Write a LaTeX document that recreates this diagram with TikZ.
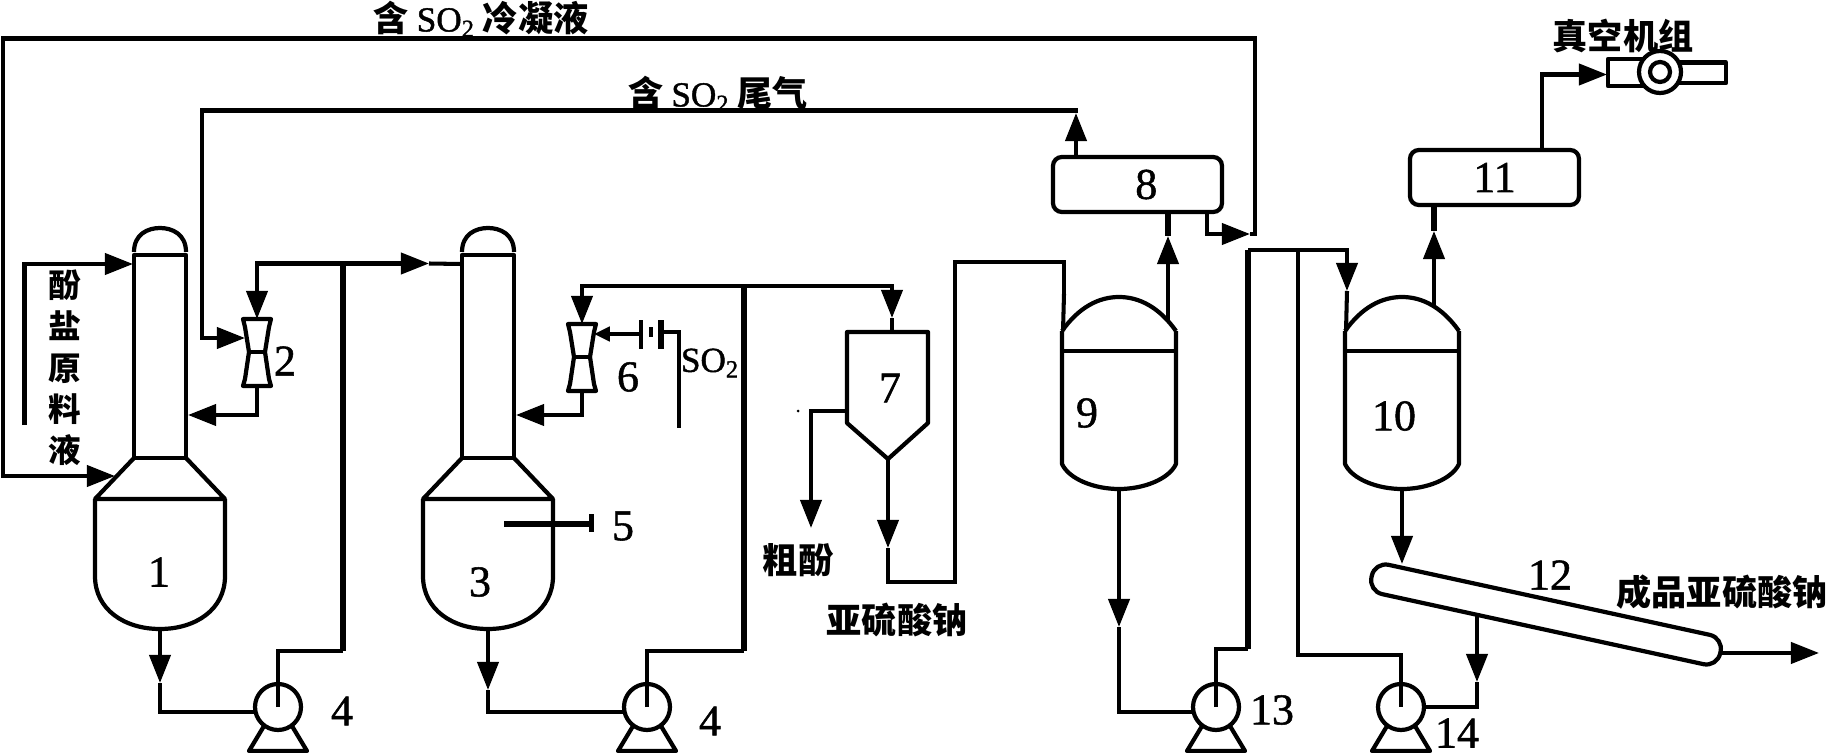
\documentclass[tikz,border=0pt]{standalone}
\usepackage{fontspec}
\usetikzlibrary{arrows.meta, positioning}
\newfontfamily\cjk{Noto Sans CJK SC}
\newfontfamily\numfont{Liberation Serif}[FakeBold=1.2]
\tikzset{
  pipe/.style={line width=2.3pt},
  riser/.style={line width=3pt},
  flow/.style={line width=2.3pt, -{Triangle[length=16pt,width=12pt]}},
  smallflow/.style={line width=2.3pt, -{Triangle[length=9pt,width=8pt]}},
  shell/.style={line width=2.4pt, line join=round},
  num/.style={font=\numfont\fontsize{25}{25}\selectfont, inner sep=0pt},
  cjktext/.style={font=\cjk\bfseries\fontsize{20}{20}\selectfont, inner sep=0pt},
  condenser/.style={draw, line width=2.4pt, rounded corners=5pt, minimum width=3.38cm, minimum height=1.1cm, inner sep=0pt, font=\numfont\fontsize{25}{25}\selectfont},
  pumpbody/.style={draw, circle, line width=2.4pt, minimum size=.92cm, inner sep=0pt},
  column/.pic={
    \draw[shell] (-26,-203) -- (-26,0) -- (26,0) -- (26,-203) -- cycle;
    \draw[shell] (-26,-206) .. controls (-26,-224) and (-12,-230) .. (0,-230) .. controls (12,-230) and (26,-224) .. (26,-206);
    \draw[shell] (-26,0) -- (-65,41) -- (65,41) -- (26,0);
    \draw[shell] (-65,41) -- (-65,118) .. controls (-65,152) and (-35,171) .. (0,171) .. controls (35,171) and (65,152) .. (65,118) -- (65,41);
    \coordinate (-bot) at (0,171);
    \coordinate (-top) at (-27,-194);
    \coordinate (-side) at (28,-43);
    \coordinate (-cone) at (-45,18);
  },
  drum/.pic={
    \draw[shell] (-57,-20) .. controls (-40,-44) and (-20,-54) .. (0,-54) .. controls (20,-54) and (40,-44) .. (57,-20);
    \draw[shell] (-57,-20) -- (-57,113) .. controls (-50,128) and (-25,138) .. (0,138) .. controls (25,138) and (50,128) .. (57,113) -- (57,-20);
    \draw[shell] (-57,0) -- (57,0);
    \coordinate (-bot) at (0,138);
    \coordinate (-in) at (-56,-20);
  },
  ejector/.pic={
    \draw[shell] (-14,-33) -- (14,-33) -- (12,-25) -- (8,0) -- (12,27) -- (14,34) -- (-14,34) -- (-12,27) -- (-8,0) -- (-12,-25) -- cycle;
    \draw[shell] (-8,0) -- (8,0);
    \coordinate (-top) at (0,-33);
    \coordinate (-bot) at (0,34);
    \coordinate (-l) at (-12,-14);
    \coordinate (-r) at (12,-23);
  },
  pump/.pic={
    \node[pumpbody] (-c) at (0,0) {};
    \draw[shell] (-14,19) -- (-29,44) -- (29,44) -- (14,19);
    \coordinate (-in) at (-23,5);
    \coordinate (-out) at (23,0);
  },
}

\begin{document}
\begin{tikzpicture}[x=0.02cm, y=-0.02cm]
\useasboundingbox (0,0) rectangle (1832,753);

% Evaporators and pumps
\pic (ves1) at (160,458) {column};
\pic (ves3) at (488,458) {column};
\pic (ej2) at (257,352) {ejector};
\pic (ej6) at (582,357) {ejector};
\pic (pump1) at (278,707) {pump};
\pic (pump2) at (647,707) {pump};
\pic (pump13) at (1216,707) {pump};
\pic (pump14) at (1401,707) {pump};

% Drums, condensers, hopper
\pic (ves9) at (1119,351) {drum};
\pic (ves10) at (1402,351) {drum};
\node[condenser] (cond8) at (1137.5,184.5) {\hspace{10pt}8};
\node[condenser] (cond11) at (1494.5,177.5) {11};
\draw[shell] (847,332) -- (928,332) -- (928,423) -- (888,459) -- (847,423) -- cycle;
\coordinate (hoptop) at (892,332);
\coordinate (hopapex) at (888,459);
\coordinate (hopside) at (847,411);

% Screw conveyor
\node[draw, line width=2.4pt, rounded corners=8pt, rotate=-12.3, minimum width=7.14cm, minimum height=.6cm, inner sep=0pt] (tube12) at (1546,614.5) {};

% Vacuum unit
\draw[shell] (1608,59) rectangle (1645,86);
\draw[shell] (1678,62.5) rectangle (1726,83);
\node[draw, circle, fill=white, line width=2.4pt, minimum size=.84cm, inner sep=0pt] (vac) at (1660,72) {};
\node[draw, circle, line width=2.4pt, minimum size=.4cm, inner sep=0pt] (vachub) at (1660,72) {};
\coordinate (vacin) at (1607,74.5);

% Stirrer
\draw[line width=3.4pt] (504,524) -- (593,524);
\fill (589,514) rectangle (594,532);

% Feed and condensate
\coordinate (feedin) at (24.5,425);
\draw[flow] (feedin) |- (ves1-top);
\coordinate (q0) at (1207,212);
\coordinate (q1) at (1250,234);
\draw[flow] (q0) |- (q1);
\draw[flow] (q1) -- (1255,234) -- (1255,38.5) -- (3,38.5) |- (ves1-cone);

% Off gas
\coordinate (g0) at (1076,157);
\coordinate (g1) at (1076,113);
\draw[flow] (g0) -- (g1);
\draw[flow] (g1) -- (1076,110.5) -- (202,110.5) |- (ej2-l);

% Loop of evaporator 1
\coordinate (h1) at (160,683);
\coordinate (r1) at (343,651);
\coordinate (r1top) at (343,263.5);
\coordinate (h2) at (429,263.5);
\draw[flow] (ves1-bot) -- (h1);
\draw[pipe] (h1) |- (pump1-in);
\draw[pipe] (pump1-c.center) |- (r1);
\draw[riser] (r1) -- (r1top);
\draw[flow] (r1top) -| (ej2-top);
\draw[flow] (r1top) -- (h2);
\draw[pipe] (h2) -- (ves3-top);
\draw[flow] (ej2-bot) |- (ves1-side);

% Loop of evaporator 3
\coordinate (h3) at (488,690);
\coordinate (r2) at (744,651);
\coordinate (r2top) at (744,286);
\coordinate (h7) at (892,318);
\draw[flow] (ves3-bot) -- (h3);
\draw[pipe] (h3) |- (pump2-in);
\draw[pipe] (pump2-c.center) |- (r2);
\draw[riser] (r2) -- (r2top);
\draw[flow] (r2top) -| (ej6-top);
\draw[flow] (r2top) -| (h7);
\draw[pipe] (h7) -- (hoptop);
\draw[flow] (ej6-bot) |- (ves3-side);

% SO2 inlet
\coordinate (so2a) at (641,334);
\coordinate (so2b) at (661,332);
\coordinate (so2c) at (679,428);
\draw[smallflow] (so2a) -- (ej6-r |- so2a);
\draw[pipe] (641,320) -- (641,349);
\draw[pipe] (651,327) -- (651,337);
\draw[riser] (661,320) -- (661,349);
\draw[pipe] (so2b) -| (so2c);

% Hopper outlets to drum 9
\coordinate (h5) at (811,528);
\coordinate (h6) at (888,548);
\coordinate (h9) at (1064,294);
\draw[flow] (hopside) -| (h5);
\draw[flow] (hopapex) -- (h6);
\draw[pipe] (h6) -- (888,582) -- (955,582) -- (955,262) -| (h9);
\draw[pipe] (h9) -- (ves9-in);
\fill (798,411) circle (1.5);

% Drum 9 outlets
\coordinate (v9) at (1168,322);
\coordinate (h8) at (1168,236);
\coordinate (h13) at (1119,627);
\draw[flow] (v9) -- (h8);
\draw[riser] (h8) -- (cond8.south -| h8);
\draw[flow] (ves9-bot) -- (h13);
\draw[pipe] (h13) |- (pump13-in);

% Pump 13 to drum 10 and pump 14
\coordinate (r3) at (1248,649);
\coordinate (r3top) at (1248,250);
\coordinate (t3) at (1298,250);
\coordinate (h10) at (1347,291);
\draw[pipe] (pump13-c.center) |- (r3);
\draw[riser] (r3) -- (r3top);
\draw[pipe] (r3top) -- (t3);
\draw[flow] (t3) -| (h10);
\draw[pipe] (h10) -- (ves10-in);
\draw[pipe] (t3) -- (1298,655) -| (pump14-c.center);

% Drum 10 outlets
\coordinate (v10) at (1434,305);
\coordinate (h11) at (1434,231);
\coordinate (h12) at (1402,564);
\draw[flow] (v10) -- (h11);
\draw[riser] (h11) -- (cond11.south -| h11);
\draw[flow] (ves10-bot) -- (h12);

% Condenser 11 to vacuum unit
\coordinate (c11) at (1542,150);
\draw[flow] (c11) |- (vacin);

% Conveyor outlets
\coordinate (tb) at (1477,615);
\coordinate (h14) at (1477,682);
\coordinate (tubeout) at (1819,650);
\draw[flow] (tb) -- (h14);
\draw[pipe] (h14) |- (pump14-out);
\draw[flow] (tube12.east) -- (tube12.east -| tubeout);

% Numbers
\node[num] (n1) at (159,572) {1};
\node[num] (n2) at (285,361) {2};
\node[num] (n3) at (480,582) {3};
\node[num] (n4a) at (342,711) {4};
\node[num] (n4b) at (710,721) {4};
\node[num] (n5) at (623,526) {5};
\node[num] (n6) at (628,377) {6};
\node[num] (n7) at (890,388) {7};
\node[num] (n9) at (1087,413) {9};
\node[num] (n10) at (1394,416) {10};
\node[num] (n12) at (1550,575) {12};
\node[num] (n13) at (1272,710) {13};
\node[num] (n14) at (1457,733) {14};

% Labels
\node[cjktext] (lcond) at (481,19) {含 {\numfont\mdseries SO\textsubscript{2}} 冷凝液};
\node[cjktext] (lgas) at (718,94) {含 {\numfont\mdseries SO\textsubscript{2}} 尾气};
\node[cjktext, align=center, font=\cjk\bfseries\fontsize{18.5}{23.5}\selectfont] (lfeed) at (65,368) {酚\\盐\\原\\料\\液};
\node[num, font=\numfont\fontsize{20}{20}\selectfont] (lso2) at (710,363) {SO\textsubscript{2}};
\node[cjktext] (lphenol) at (798,560) {粗酚};
\node[cjktext] (lsulf) at (897,620) {亚硫酸钠};
\node[cjktext] (lvac) at (1623,36) {真空机组};
\node[cjktext] (lprod) at (1722,592) {成品亚硫酸钠};
\end{tikzpicture}
\end{document}
